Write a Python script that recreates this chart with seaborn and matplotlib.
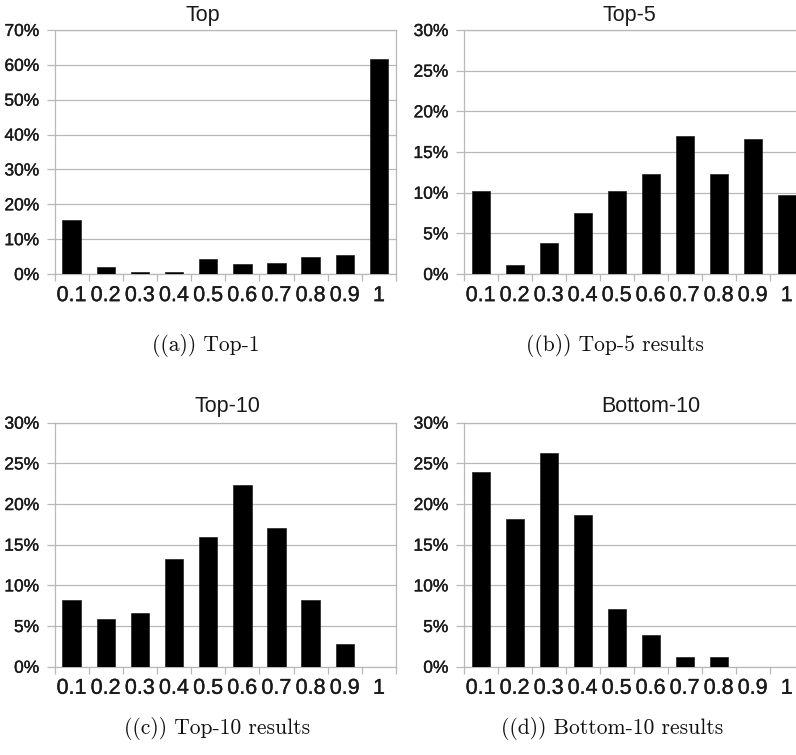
import matplotlib
matplotlib.use("Agg")
import matplotlib.pyplot as plt
import matplotlib.patheffects as pe
import seaborn as sns
import pandas as pd
from matplotlib.ticker import FixedLocator, FuncFormatter

bins = ["0.1", "0.2", "0.3", "0.4", "0.5", "0.6", "0.7", "0.8", "0.9", "1"]
top1 = [15.5, 2.1, 0.6, 0.6, 4.4, 2.9, 3.25, 4.8, 5.4, 61.8]
top5 = [10.2, 1.1, 3.8, 7.5, 10.2, 12.25, 17.0, 12.25, 16.6, 9.7]
top10 = [8.2, 5.9, 6.6, 13.2, 15.9, 22.4, 17.0, 8.2, 2.75, 0.0]
bottom10 = [24.0, 18.1, 26.3, 18.6, 7.05, 3.85, 1.15, 1.15, 0.0, 0.0]

titles = ["Top", "Top-5", "Top-10", "Bottom-10"]
captions = ["((a)) Top-1", "((b)) Top-5 results", "((c)) Top-10 results", "((d)) Bottom-10 results"]
ymax = [70, 30, 30, 30]
ystep = [10, 5, 5, 5]

sns.set_theme(style="white")
plt.rcParams["font.family"] = ["Liberation Sans", "DejaVu Sans"]

W, H = 796, 755
fig = plt.figure(figsize=(W / 100, H / 100), dpi=100)

boxes = [
    (54.5, 396, 30, 274),
    (463.7, 803.7, 30, 274),
    (54.5, 396, 422.7, 666.7),
    (463.7, 803.7, 422.7, 666.7),
]
title_pos = [(203, 16), (629, 16), (227, 407), (651, 407)]
caption_pos = [(206, 346), (615, 346), (217, 728), (612, 728)]

grid_c = "#b8b8b8"
txt_c = "#1a1a1a"
heavy = [pe.withStroke(linewidth=0.25, foreground=txt_c)]
datasets = [top1, top5, top10, bottom10]

for i, (vals, box) in enumerate(zip(datasets, boxes)):
    l, r, t, b = box
    ax = fig.add_axes([l / W, 1 - b / H, (r - l) / W, (b - t) / H])
    df = pd.DataFrame({"bin": bins, "pct": vals})
    sns.barplot(data=df, x="bin", y="pct", order=bins, color="black",
                saturation=1, width=0.54, edgecolor="#222222", linewidth=0.5,
                ax=ax, zorder=3)
    ax.set_xlim(-0.5, len(bins) - 0.5)
    ax.set_ylim(0, ymax[i])
    ax.set_yticks(list(range(0, ymax[i] + 1, ystep[i])))
    ax.yaxis.set_major_formatter(FuncFormatter(lambda v, p: f"{int(round(v))}%"))
    ax.set_xlabel("")
    ax.set_ylabel("")
    ax.grid(axis="y", color=grid_c, linewidth=0.9, zorder=0)
    ax.set_axisbelow(True)
    for s in ax.spines.values():
        s.set_color(grid_c)
        s.set_linewidth(0.9)
    ax.tick_params(axis="y", which="major", left=True, length=6, width=0.9,
                   color=grid_c, labelsize=12.5, pad=5, labelcolor=txt_c)
    ax.tick_params(axis="x", which="major", bottom=False, length=0,
                   labelsize=15.5, pad=8, labelcolor=txt_c)
    ax.xaxis.set_minor_locator(FixedLocator([k - 0.5 for k in range(len(bins) + 1)]))
    ax.tick_params(axis="x", which="minor", bottom=True, length=5, width=0.9,
                   color=grid_c)
    for lab in ax.get_xticklabels() + ax.get_yticklabels():
        lab.set_path_effects(heavy)
    tx, ty = title_pos[i]
    fig.text(tx / W, 1 - ty / H, titles[i], ha="center", va="center",
             fontsize=15.5, color=txt_c)
    cx, cy = caption_pos[i]
    fig.text(cx / W, 1 - cy / H, captions[i], ha="center", va="center",
             fontsize=15.5, family="cmr10", color="#111111")

fig.savefig("out.png", dpi=100)
